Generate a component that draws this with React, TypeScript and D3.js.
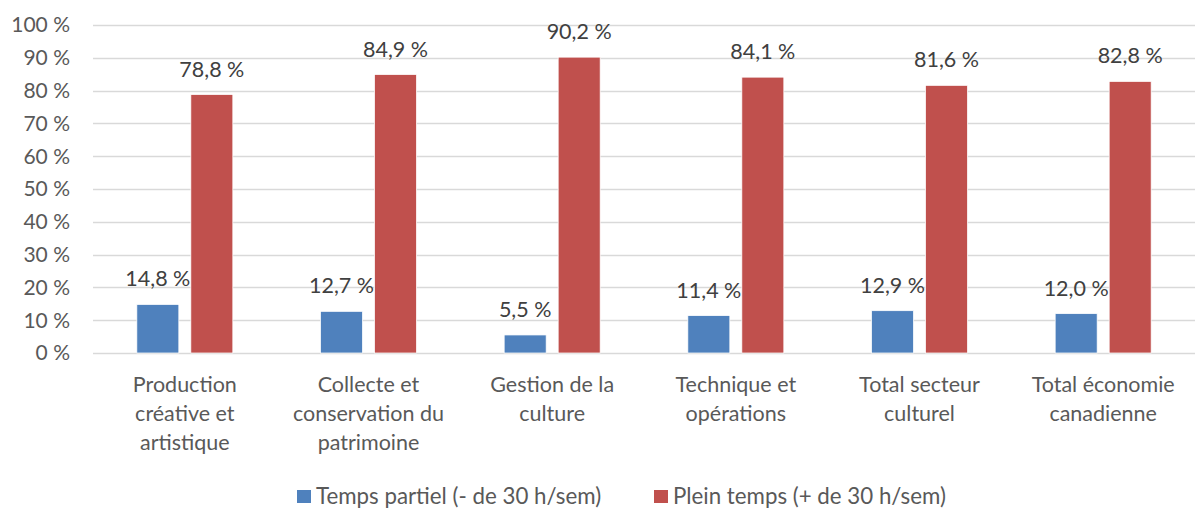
import * as d3 from "d3";
import { useEffect, useRef } from "react";

const categories = [
  ["Production", "créative et", "artistique"],
  ["Collecte et", "conservation du", "patrimoine"],
  ["Gestion de la", "culture"],
  ["Technique et", "opérations"],
  ["Total secteur", "culturel"],
  ["Total économie", "canadienne"],
];
const partTime = [14.8, 12.7, 5.5, 11.4, 12.9, 12.0];
const fullTime = [78.8, 84.9, 90.2, 84.1, 81.6, 82.8];
const seriesNames = ["Temps partiel (- de 30 h/sem)", "Plein temps (+ de 30 h/sem)"];
const yTicks = [0, 10, 20, 30, 40, 50, 60, 70, 80, 90, 100];

const W = 1197;
const H = 508;
const FONT = "Lato, 'Open Sans', sans-serif";
const colors = ["#4F81BD", "#C0504D"];

export default function App() {
  const ref = useRef<SVGSVGElement | null>(null);

  useEffect(() => {
    document.body.style.margin = "0";
    if (!ref.current) return;
    const svg = d3.select(ref.current);
    svg.selectAll("*").remove();

    const margin = { left: 93, right: 2, top: 25, bottom: 155 };
    const x = d3
      .scaleBand()
      .domain(categories.map((_, i) => String(i)))
      .range([margin.left, W - margin.right]);
    const y = d3.scaleLinear().domain([0, 100]).range([H - margin.bottom, margin.top]);

    const barW = 42;
    const gap = 12;

    // gridlines
    svg
      .append("g")
      .selectAll("line")
      .data(yTicks)
      .join("line")
      .attr("x1", margin.left)
      .attr("x2", W - margin.right)
      .attr("y1", (d) => Math.round(y(d)) + 0.5)
      .attr("y2", (d) => Math.round(y(d)) + 0.5)
      .attr("stroke", "#D9D9D9")
      .attr("stroke-width", 1.5);

    // y tick labels
    svg
      .append("g")
      .selectAll("text")
      .data(yTicks)
      .join("text")
      .attr("x", 70)
      .attr("y", (d) => y(d))
      .attr("dy", "0.35em")
      .attr("text-anchor", "end")
      .attr("font-family", FONT)
      .attr("font-size", 21)
      .attr("fill", "#595959")
      .text((d) => `${d} %`);

    const series = [partTime, fullTime];
    series.forEach((vals, si) => {
      const offset = si === 0 ? -(barW + gap) / 2 : (barW + gap) / 2;
      const g = svg.append("g");
      g.selectAll("rect")
        .data(vals)
        .join("rect")
        .attr("x", (_, i) => x(String(i))! + x.bandwidth() / 2 + offset - barW / 2)
        .attr("width", barW)
        .attr("y", (d) => y(d))
        .attr("height", (d) => y(0) - y(d))
        .attr("fill", colors[si])
        .attr("stroke", "#fff")
        .attr("stroke-width", 0.75);
      g.selectAll("text")
        .data(vals)
        .join("text")
        .attr("x", (_, i) => x(String(i))! + x.bandwidth() / 2 + offset)
        .attr("y", (d) => y(d) - 18)
        .attr("text-anchor", "middle")
        .attr("font-family", FONT)
        .attr("font-size", 21.5)
        .attr("fill", "#404040")
        .text((d) => `${d.toFixed(1).replace(".", ",")} %`);
    });

    // category labels
    const cg = svg.append("g");
    categories.forEach((lines, i) => {
      const cx = x(String(i))! + x.bandwidth() / 2;
      const t = cg
        .append("text")
        .attr("x", cx)
        .attr("y", 392)
        .attr("text-anchor", "middle")
        .attr("font-family", FONT)
        .attr("font-size", 21.5)
        .attr("fill", "#595959");
      lines.forEach((l, li) => {
        t.append("tspan")
          .attr("x", cx)
          .attr("dy", li === 0 ? 0 : 29)
          .text(l);
      });
    });

    // legend
    const legendX = [297, 654];
    const lg = svg.append("g");
    seriesNames.forEach((name, i) => {
      lg.append("rect")
        .attr("x", legendX[i])
        .attr("y", 490)
        .attr("width", 14)
        .attr("height", 13)
        .attr("fill", colors[i]);
      lg.append("text")
        .attr("x", legendX[i] + 19)
        .attr("y", 504)
        .attr("font-family", FONT)
        .attr("font-size", 22.3)
        .attr("fill", "#595959")
        .text(name);
    });
  }, []);

  return <svg ref={ref} width={W} height={H} style={{ display: "block" }} />;
}
